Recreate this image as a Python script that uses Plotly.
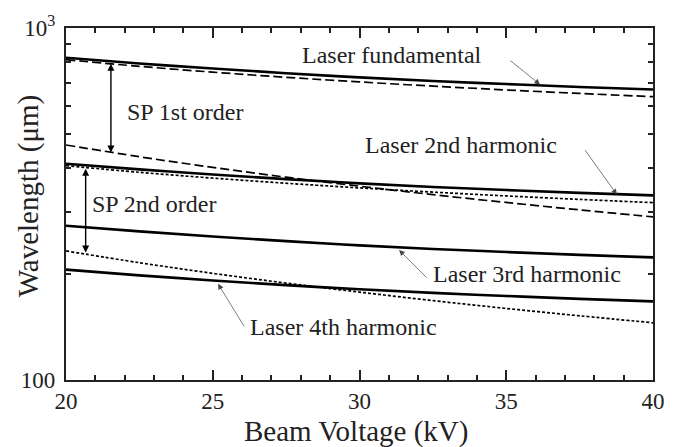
import plotly.graph_objects as go

# Beam voltage (kV)
voltage = [20, 22.5, 25, 27.5, 30, 32.5, 35, 37.5, 40]

# Wavelengths (um)
laser_fund = [823, 793, 767, 744, 724, 707, 693, 680, 669]
laser_2nd = [411.5, 396.5, 383.5, 372, 362, 353.5, 346.5, 340, 334.5]
laser_3rd = [274.3, 264.3, 255.7, 248, 241.3, 235.7, 231, 226.7, 223]
laser_4th = [205.8, 198.3, 191.8, 186, 181, 176.8, 173.3, 170, 167.3]

sp1_upper = [812.6, 778.2, 749.2, 724.3, 702.7, 683.6, 666.8, 651.7, 638.1]
sp1_lower = [465.2, 430.8, 401.8, 376.9, 355.3, 336.2, 319.4, 304.3, 290.7]
sp2_upper = [406.3, 389.1, 374.6, 362.2, 351.4, 341.8, 333.4, 325.9, 319.1]
sp2_lower = [232.6, 215.4, 200.9, 188.5, 177.7, 168.1, 159.7, 152.2, 145.4]

x_ticks = [20, 25, 30, 35, 40]
y_ticks = [100, 1000]
y_ticktext = ["100", "10<sup>3</sup>"]
y_minor = [200, 300, 400, 500, 600, 700, 800, 900]

FONT = "Liberation Serif, Times New Roman, serif"

fig = go.Figure()

def add(y, dash, width):
    fig.add_trace(go.Scatter(x=voltage, y=y, mode="lines",
                             line=dict(color="black", width=width, dash=dash, shape="spline"),
                             showlegend=False, hoverinfo="skip"))

add(sp1_upper, "9px,4px", 1.7)
add(sp1_lower, "9px,4px", 1.7)
add(sp2_upper, "3px,2px", 1.7)
add(sp2_lower, "3px,2px", 1.7)
add(laser_fund, "solid", 2.6)
add(laser_2nd, "solid", 2.6)
add(laser_3rd, "solid", 2.6)
add(laser_4th, "solid", 2.6)

ann = []
lab_font = dict(family=FONT, size=24, color="#222")

def text(x, ly, s):
    ann.append(dict(x=x, y=ly, xref="x", yref="y", text=s, showarrow=False,
                    font=lab_font, xanchor="center", yanchor="middle"))

text(31.11, 2.924, "Laser fundamental")
text(24.05, 2.7606, "SP 1st order")
text(23.0, 2.5014, "SP 2nd order")
text(33.46, 2.6676, "Laser 2nd harmonic")
text(35.71, 2.3014, "Laser 3rd harmonic")
text(29.47, 2.152, "Laser 4th harmonic")

def pointer(x, ly, ax, ay):
    ann.append(dict(x=x, y=ly, xref="x", yref="y", text="", showarrow=True,
                    ax=ax, ay=ay, arrowhead=2, arrowsize=1.6, arrowwidth=0.7,
                    arrowcolor="#444", standoff=0))

pointer(36.15, 2.8394, -31, -25)
pointer(38.77, 2.5268, -33, -46)
pointer(31.35, 2.369, 29, 29)
pointer(25.18, 2.2732, 27, 44)

def double(x, ltop, lbot):
    ann.append(dict(x=x, y=ltop, xref="x", yref="y", text="", showarrow=True,
                    axref="x", ayref="y", ax=x, ay=lbot,
                    arrowhead=2, startarrowhead=2, arrowside="end+start",
                    arrowsize=1.0, startarrowsize=1.0, arrowwidth=1.4,
                    arrowcolor="black", standoff=0, startstandoff=0))

double(21.53, 2.8986, 2.6423)
double(20.67, 2.600, 2.3577)

# axis titles
ann.append(dict(x=0.5, y=-0.146, xref="paper", yref="paper", text="Beam Voltage (kV)",
                showarrow=False, font=dict(family=FONT, size=29, color="#222"),
                xanchor="center", yanchor="middle", xshift=-4))
ann.append(dict(x=-0.0647, y=0.522, xref="paper", yref="paper", text="Wavelength (μm)",
                showarrow=False, textangle=-90, font=dict(family=FONT, size=29, color="#222"),
                xanchor="center", yanchor="middle"))

fig.update_layout(
    width=677, height=447,
    margin=dict(l=66, r=24, t=25, b=67),
    paper_bgcolor="white", plot_bgcolor="white",
    annotations=ann,
    font=dict(family=FONT, color="#222"),
)

fig.update_xaxes(range=[20, 40], tickvals=x_ticks, ticks="inside", ticklen=10, tickwidth=1.8,
                 tickcolor="#222", showline=True, linewidth=2.4, linecolor="#222", mirror="ticks",
                 showgrid=False, zeroline=False, tickfont=dict(family=FONT, size=23, color="#222"),
                 minor=dict(dtick=1, tick0=20, ticks="inside", ticklen=5, tickwidth=1.5, tickcolor="#222", showgrid=False),
                 ticklabelstandoff=-1)
fig.update_yaxes(type="log", range=[2, 3], tickvals=y_ticks, ticktext=y_ticktext, ticks="inside",
                 ticklen=10, tickwidth=1.8, tickcolor="#222", showline=True, linewidth=2.4,
                 linecolor="#222", mirror="ticks", showgrid=False, zeroline=False,
                 tickfont=dict(family=FONT, size=23, color="#222"),
                 minor=dict(tickmode="array", tickvals=y_minor, ticks="inside", ticklen=5, tickwidth=1.5,
                            tickcolor="#222", showgrid=False),
                 ticklabelstandoff=4)

fig.write_html("out.html", config={"displayModeBar": False},
               post_script="document.body.style.margin='0';document.body.style.overflow='hidden';")
